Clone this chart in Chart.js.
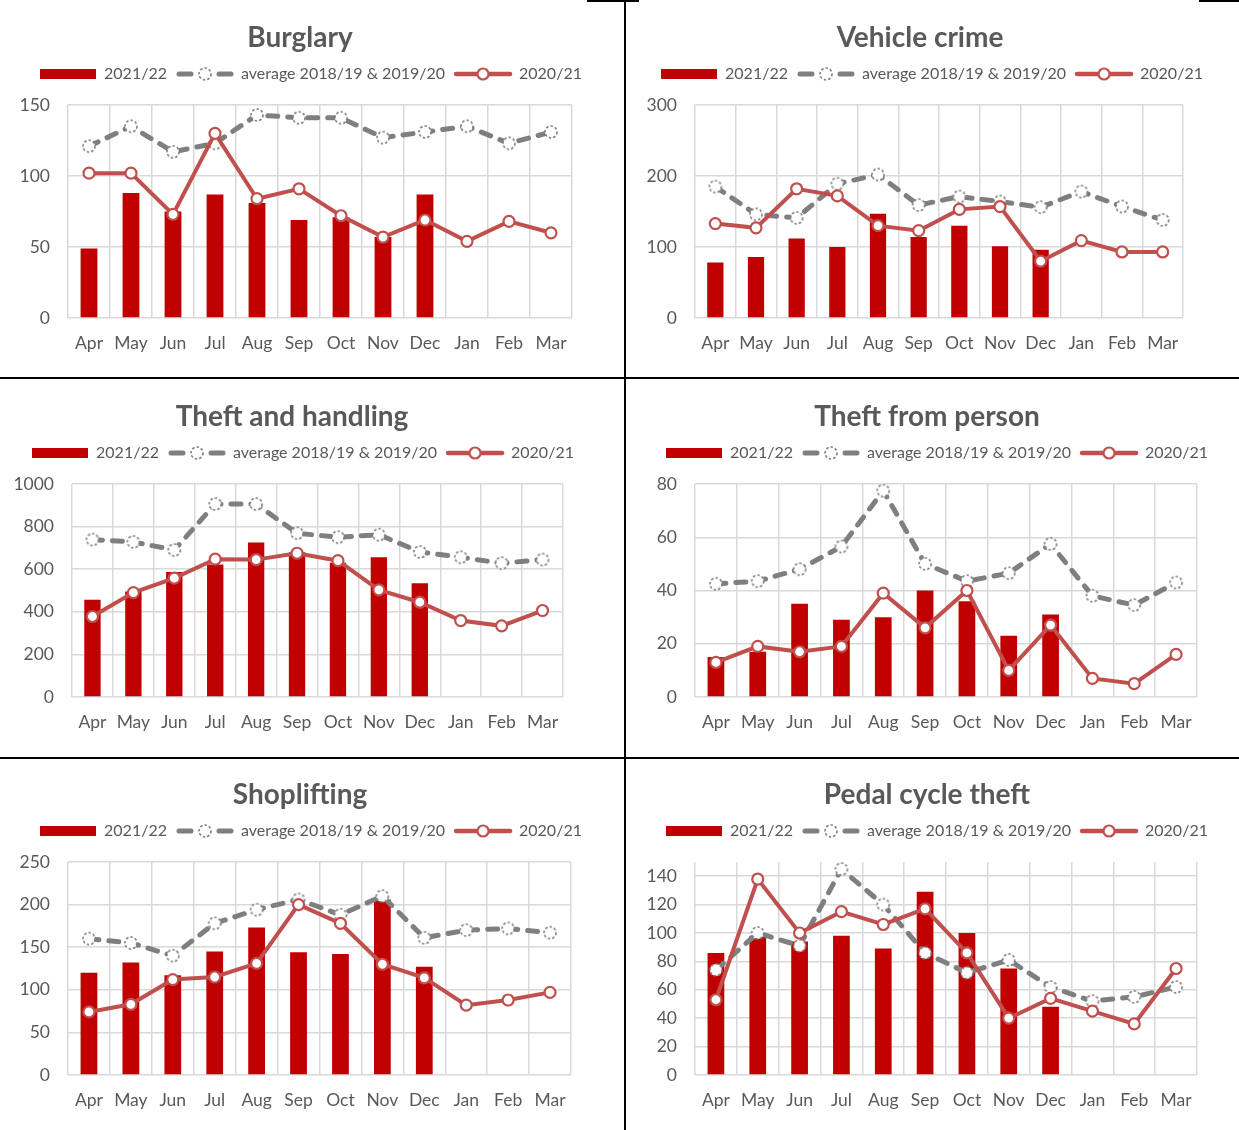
<!DOCTYPE html>
<html>
<head>
<meta charset="utf-8">
<script src="https://cdn.jsdelivr.net/npm/chart.js@4.4.0/dist/chart.umd.min.js"></script>
<style>
  body { margin: 0; background: #fff; }
  #page { position: relative; width: 1239px; height: 1130px; overflow: hidden; background: #fff; }
  .box { position: absolute; height: 358px; }
  .rule { position: absolute; background: #000; }
</style>
</head>
<body>
<div id="page">
  <div class="box" style="left:0;top:0;width:600px"><canvas id="burglary"></canvas></div>
  <div class="box" style="left:634px;top:0;width:572px"><canvas id="vehicle"></canvas></div>
  <div class="box" style="left:0;top:379px;width:584px"><canvas id="theft"></canvas></div>
  <div class="box" style="left:640px;top:379px;width:574px"><canvas id="person"></canvas></div>
  <div class="box" style="left:0;top:757px;width:600px"><canvas id="shop"></canvas></div>
  <div class="box" style="left:640px;top:757px;width:574px"><canvas id="pedal"></canvas></div>

  <div class="rule" style="left:624px;top:0;width:2px;height:1130px"></div>
  <div class="rule" style="left:0;top:377px;width:1239px;height:2px"></div>
  <div class="rule" style="left:0;top:757px;width:1239px;height:2px"></div>
  <div class="rule" style="left:587px;top:0;width:52px;height:2px"></div>
  <div class="rule" style="left:1199px;top:0;width:40px;height:2px"></div>
</div>
<script>
const months = ["Apr", "May", "Jun", "Jul", "Aug", "Sep", "Oct", "Nov", "Dec", "Jan", "Feb", "Mar"];

const burglary21 = [49, 88, 75, 87, 81, 69, 71, 57, 87];
const burglaryAvg = [121, 135, 117, 123, 143, 141, 141, 127, 131, 135, 123, 131];
const burglary20 = [102, 102, 73, 130, 84, 91, 72, 57, 69, 54, 68, 60];

const vehicle21 = [78, 86, 112, 100, 147, 114, 130, 101, 96];
const vehicleAvg = [185, 146, 141, 189, 202, 159, 171, 164, 156, 178, 157, 138];
const vehicle20 = [133, 127, 182, 172, 130, 123, 153, 157, 80, 109, 93, 93];

const theft21 = [456, 495, 587, 622, 725, 680, 630, 656, 534];
const theftAvg = [739, 728, 690, 906, 906, 769, 750, 762, 681, 656, 628, 645];
const theft20 = [378, 490, 558, 647, 645, 675, 640, 503, 445, 359, 334, 406];

const person21 = [15, 17, 35, 29, 30, 40, 36, 23, 31];
const personAvg = [42.5, 43.5, 48, 56.5, 77.5, 50, 43.5, 46.5, 57.5, 38, 34.5, 43];
const person20 = [13, 19, 17, 19, 39, 26, 40, 10, 27, 7, 5, 16];

const shop21 = [120, 132, 117, 145, 173, 144, 142, 206, 127];
const shopAvg = [160, 155, 140, 178, 194, 206, 188, 210, 161, 170, 172, 167];
const shop20 = [74, 83, 112, 115, 131, 200, 178, 130, 114, 82, 88, 97];

const pedal21 = [86, 98, 94, 98, 89, 129, 100, 75, 48];
const pedalAvg = [74, 100, 91, 145, 120, 86, 72, 81, 62, 52, 55, 62];
const pedal20 = [53, 138, 100, 115, 106, 117, 86, 40, 54, 45, 36, 75];

const RED = "#C00000";
const LINE_RED = "#C0504D";
const GREY = "#7F7F7F";
const TEXT = "#595959";

Chart.defaults.font.family = "Lato, 'Open Sans', sans-serif";
Chart.defaults.color = TEXT;

// small canvases used as marker / legend symbols
function makeCanvas(w, h, draw) {
  const c = document.createElement("canvas");
  c.width = w;
  c.height = h;
  draw(c.getContext("2d"));
  return c;
}

const avgMarker = makeCanvas(16, 16, (ctx) => {
  ctx.beginPath();
  ctx.arc(8, 8, 6, 0, Math.PI * 2);
  ctx.fillStyle = "#fff";
  ctx.fill();
  ctx.setLineDash([2.5, 2]);
  ctx.lineWidth = 1.6;
  ctx.strokeStyle = GREY;
  ctx.stroke();
});

const barIcon = makeCanvas(56, 12, (ctx) => {
  ctx.fillStyle = RED;
  ctx.fillRect(0, 1, 56, 10);
});

const avgIcon = makeCanvas(58, 16, (ctx) => {
  ctx.strokeStyle = GREY;
  ctx.lineWidth = 5;
  ctx.lineCap = "round";
  ctx.beginPath();
  ctx.moveTo(3, 8);
  ctx.lineTo(15, 8);
  ctx.moveTo(43, 8);
  ctx.lineTo(55, 8);
  ctx.stroke();
  ctx.drawImage(avgMarker, 21, 0);
});

const prevIcon = makeCanvas(60, 16, (ctx) => {
  ctx.strokeStyle = LINE_RED;
  ctx.lineWidth = 4.5;
  ctx.lineCap = "round";
  ctx.beginPath();
  ctx.moveTo(3, 8);
  ctx.lineTo(57, 8);
  ctx.stroke();
  ctx.beginPath();
  ctx.arc(30, 8, 5.5, 0, Math.PI * 2);
  ctx.fillStyle = "#fff";
  ctx.fill();
  ctx.lineWidth = 2.2;
  ctx.stroke();
});

const legendIcons = [barIcon, avgIcon, prevIcon];

// extra room between legend and plot, and a small sideways nudge of the legend
function legendTweak(shift) {
  return {
    id: "legendTweak",
    beforeInit(chart) {
      const legend = chart.legend;
      const fit = legend.fit;
      legend.fit = function () {
        fit.call(this);
        this.height += 13;
      };
      const draw = legend.draw;
      legend.draw = function () {
        this.ctx.save();
        this.ctx.translate(shift, 0);
        draw.call(this);
        this.ctx.restore();
      };
    },
  };
}

function crimeChart(id, title, bars, avg, prev, yMax, yStep, axisL, axisR, shift) {
  new Chart(document.getElementById(id), {
    type: "bar",
    data: {
      labels: months,
      datasets: [
        {
          label: "2021/22",
          data: bars,
          backgroundColor: RED,
          barPercentage: 0.4,
          categoryPercentage: 1,
          yAxisID: "y",
          order: 3,
        },
        {
          type: "line",
          label: "average 2018/19 & 2019/20",
          data: avg,
          borderColor: GREY,
          borderWidth: 5,
          borderDash: [10, 10],
          borderCapStyle: "round",
          pointStyle: avgMarker,
          pointRadius: 6,
          yAxisID: "y",
          order: 2,
        },
        {
          type: "line",
          label: "2020/21",
          data: prev,
          borderColor: LINE_RED,
          borderWidth: 4,
          pointBackgroundColor: "#fff",
          pointBorderColor: LINE_RED,
          pointBorderWidth: 2.2,
          pointRadius: 5.5,
          yAxisID: "y",
          order: 1,
        },
      ],
    },
    options: {
      responsive: true,
      maintainAspectRatio: false,
      animation: false,
      layout: { padding: 0 },
      plugins: {
        title: {
          display: true,
          text: title,
          color: TEXT,
          font: { size: 28, weight: "bold" },
          padding: { top: 21.2, bottom: 1.2 },
        },
        legend: {
          position: "top",
          labels: {
            usePointStyle: true,
            pointStyleWidth: 56,
            padding: 10,
            color: TEXT,
            font: { size: 16 },
            generateLabels: (chart) =>
              chart.data.datasets.map((ds, i) => ({
                text: ds.label,
                pointStyle: legendIcons[i],
                fontColor: TEXT,
                datasetIndex: i,
                lineWidth: 0,
                hidden: false,
              })),
          },
        },
        tooltip: { enabled: false },
      },
      scales: {
        x: {
          offset: true,
          grid: { color: "#D9D9D9", lineWidth: 1.5, drawTicks: false, offset: true },
          border: { display: false },
          ticks: { color: TEXT, font: { size: 17.5 }, padding: 15, maxRotation: 0, autoSkip: false },
          afterFit: (s) => { s.height = 40; },
        },
        y: {
          min: 0,
          max: yMax,
          grid: { color: "#D9D9D9", lineWidth: 1.5, drawTicks: false },
          border: { display: false },
          ticks: {
            stepSize: yStep,
            color: TEXT,
            font: { size: 17.5 },
            padding: 18,
            includeBounds: false,
            callback: (v) => String(v),
          },
          afterFit: (s) => { s.width = axisL; },
        },
        pad: {
          type: "linear",
          axis: "y",
          position: "right",
          grid: { display: false },
          border: { display: false },
          ticks: { display: false },
          afterFit: (s) => { s.width = axisR; },
        },
      },
    },
    plugins: [legendTweak(shift)],
  });
}

crimeChart("burglary", "Burglary", burglary21, burglaryAvg, burglary20, 150, 50, 68, 28, 11);
crimeChart("vehicle", "Vehicle crime", vehicle21, vehicleAvg, vehicle20, 300, 100, 61, 23, 12);
crimeChart("theft", "Theft and handling", theft21, theftAvg, theft20, 1000, 200, 72, 21, 11);
crimeChart("person", "Theft from person", person21, personAvg, person20, 80, 20, 55, 17, 10);
crimeChart("shop", "Shoplifting", shop21, shopAvg, shop20, 250, 50, 68, 29, 11);
crimeChart("pedal", "Pedal cycle theft", pedal21, pedalAvg, pedal20, 150, 20, 55, 17, 10);
</script>
</body>
</html>
